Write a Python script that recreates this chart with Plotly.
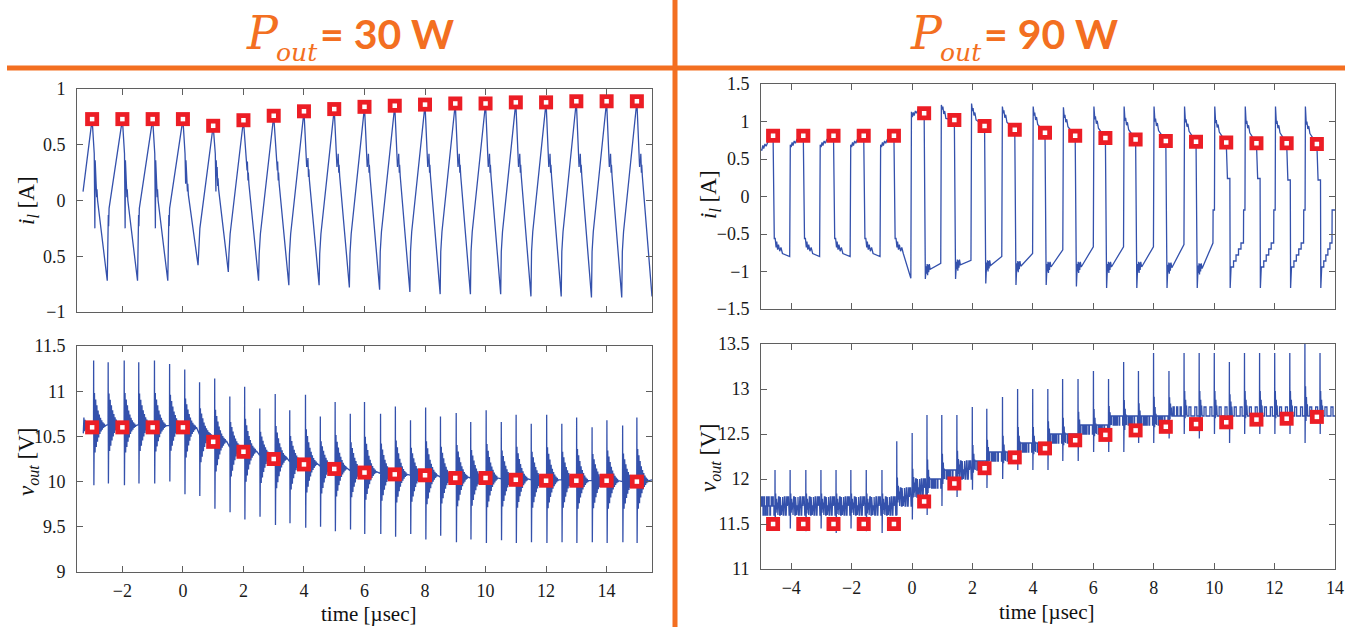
import plotly.graph_objects as go

FIG_W, FIG_H = 1345, 627
ORANGE = "#F36F21"
TRACE_BLUE = "#3451AC"
MARK_RED = "#EC1D25"
FRAME = "#5f5f5f"

# ------------------------------------------------------------------
# P_out = 30 W : inductor current i_l  [µs, A]
# ------------------------------------------------------------------
T30 = [-3, -2, -1, 0, 1, 2, 3, 4, 5, 6, 7, 8, 9, 10, 11, 12, 13, 14, 15]
IL30_MODEL = [0.73, 0.73, 0.73, 0.73, 0.67, 0.72, 0.76, 0.80, 0.82, 0.84,
              0.85, 0.86, 0.87, 0.87, 0.88, 0.88, 0.89, 0.89, 0.89]
IL30_SPIKE = [-0.25, -0.25, -0.25, 0.15, 0.08, 0.30, 0.30, 0.30, 0.30, 0.30,
              0.30, 0.30, 0.30, 0.30, 0.30, 0.30, 0.30, 0.30, 0.30]
IL30_FALL = [0.00, 0.00, 0.00, 0.05, 0.10, 0.15, 0.15, 0.18, 0.22, 0.22,
             0.22, 0.22, 0.22, 0.22, 0.22, 0.22, 0.22, 0.22, 0.22]
IL30_VALLEY = [-0.72, -0.72, -0.72, -0.58, -0.64, -0.72, -0.76, -0.76, -0.78, -0.80,
               -0.82, -0.84, -0.84, -0.84, -0.86, -0.86, -0.87, -0.87, -0.86]
IL30_RISE = [-0.07, -0.07, -0.07, -0.25, -0.30, -0.30, -0.30, -0.30, -0.30,
             -0.28, -0.28, -0.28, -0.28, -0.28, -0.28, -0.28, -0.28, -0.28]
IL30_HEAD = (-3.3, 0.08)

# P_out = 30 W : output voltage v_out  [µs, V]
V30_MODEL = [10.60, 10.60, 10.60, 10.60, 10.44, 10.33, 10.25, 10.19, 10.14, 10.10,
             10.08, 10.07, 10.04, 10.04, 10.02, 10.01, 10.01, 10.01, 10.00]
V30_T = [-2.95, -2.47, -1.94, -1.46, -0.94, -0.44, 0.06, 0.55, 1.05, 1.55,
         2.04, 2.54, 3.05, 3.53, 4.05, 4.54, 5.03, 5.53, 6.00, 6.53,
         7.02, 7.52, 8.02, 8.51, 9.03, 9.51, 10.02, 10.52, 11.01, 11.51,
         12.02, 12.52, 13.01, 13.52, 14.01, 14.53, 15.00]
V30_TOP = [11.34, 11.32, 11.34, 11.32, 11.34, 11.30, 11.24, 11.10, 11.14, 10.94,
           11.05, 10.81, 10.97, 10.79, 10.96, 10.72, 10.88, 10.75, 10.88, 10.75,
           10.83, 10.68, 10.82, 10.72, 10.76, 10.66, 10.79, 10.66, 10.74, 10.64,
           10.74, 10.64, 10.71, 10.60, 10.68, 10.62, 10.71]
V30_BOTTOM = [9.96, 9.98, 9.96, 9.98, 9.98, 10.00, 9.86, 9.84, 9.70, 9.66,
              9.58, 9.61, 9.52, 9.54, 9.49, 9.50, 9.45, 9.47, 9.42, 9.42,
              9.39, 9.42, 9.36, 9.40, 9.33, 9.36, 9.32, 9.35, 9.32, 9.33,
              9.32, 9.33, 9.32, 9.33, 9.32, 9.33, 9.32]
V30_BASE = [10.62, 10.63, 10.62, 10.63, 10.62, 10.62, 10.60, 10.52, 10.45, 10.38,
            10.34, 10.29, 10.26, 10.22, 10.20, 10.17, 10.15, 10.12, 10.11, 10.09,
            10.08, 10.07, 10.07, 10.05, 10.05, 10.04, 10.04, 10.03, 10.03, 10.02,
            10.02, 10.02, 10.01, 10.01, 10.01, 10.00, 10.01]
V30_HEAD = (-3.42, 11.00, 10.30)     # switching event just before the record opens
V30_START, V30_END = -3.3, (15.5, 10.02)
RING30 = [0.50, -0.45, 0.40, -0.36, 0.31, -0.27, 0.23, -0.20, 0.17, -0.14, 0.12,
          -0.10, 0.08, -0.07, 0.05, -0.04, 0.03, -0.02]

# ------------------------------------------------------------------
# P_out = 90 W : inductor current i_l
# ------------------------------------------------------------------
T90 = [-4.6, -3.6, -2.6, -1.6, -0.6, 0.4, 1.4, 2.4, 3.4, 4.4,
       5.4, 6.4, 7.4, 8.4, 9.4, 10.4, 11.4, 12.4, 13.4]
IL90_MODEL = [0.81, 0.81, 0.81, 0.81, 0.81, 1.11, 1.02, 0.94, 0.89, 0.85,
              0.81, 0.78, 0.76, 0.74, 0.73, 0.72, 0.71, 0.71, 0.70]
IL90_LOW_SPIKE = [-0.56, -0.56, -0.56, -0.56, -0.56, -1.10, -1.10, -1.16, -1.18, -1.18,
                  -1.20, -1.22, -1.22, -1.22, -1.22, -1.22, -1.22, -1.22, -1.22]
IL90_LOW_START = [-0.56, -0.56, -0.56, -0.56, -0.56, -0.93, -0.87, -0.88, -0.89, -0.90,
                  -0.90, -0.90, -0.90, -0.91, -0.92, -0.94, -0.94, -0.94, -0.94]
IL90_LOW_END = [-0.80, -0.80, -0.80, -0.80, -1.09, -0.89, -0.85, -0.80, -0.76, -0.71,
                -0.67, -0.67, -0.67, -0.64, -0.62, -0.62, -0.62, -0.62, -0.62]
IL90_RISE_T = [-4.05, -3.06, -2.05, -1.06, -0.04, 0.95, 1.95, 2.97, 3.99, 4.99,
               6.00, 7.00, 7.99, 9.00, 9.96, 10.97, 11.97, 12.96, 13.90]
IL90_RISE_STEP = [None, None, None, None, None, None, None, None, None, None,
                  None, None, None, None, -0.18, -0.18, -0.18, -0.18, -0.18]
IL90_FALL_STEP = [None, None, None, None, None, None, None, None, None, None,
                  None, None, None, None, None, 0.24, 0.24, 0.22, 0.22]
IL90_HIGH_PEAK = [0.69, 0.69, 0.69, 0.69, 1.13, 1.22, 1.24, 1.20, 1.20, 1.19,
                  1.20, 1.20, 1.20, 1.20, 1.20, 1.20, 1.20, 1.20]
IL90_HIGH_SETTLE = [0.66, 0.66, 0.66, 0.66, 1.06, 1.04, 1.02, 0.99, 0.96, 0.93,
                    0.91, 0.89, 0.88, 0.87, 0.86, 0.85, 0.85, 0.84]
IL90_HEAD = (-5.0, 0.62, 0.62)
IL90_STAIR = [-0.94, -0.86, -0.78, -0.70, -0.62]
IL90_END_T = 14.0
HIGH_RING_SOFT = [(0.03, 0.00), (0.06, 0.06), (0.09, 0.02), (0.13, 0.08), (0.17, 0.05), (0.22, 0.10)]
HIGH_RING_HARD = [(0.03, 0.12), (0.05, 0.16), (0.08, 0.06), (0.11, 0.10), (0.15, 0.00)]
LOW_RING_SOFT = [(0.03, -0.12), (0.05, -0.04), (0.08, -0.15), (0.11, -0.08), (0.15, -0.17), (0.19, -0.12), (0.24, -0.20)]
LOW_RING_HARD = [(0.015, -0.10), (0.03, 0.03), (0.045, -0.12), (0.06, 0.02), (0.08, -0.08), (0.10, 0.03), (0.13, -0.04)]

# P_out = 90 W : output voltage v_out
V90_MODEL = [11.50, 11.50, 11.50, 11.50, 11.50, 11.75, 11.95, 12.12, 12.24, 12.34,
             12.43, 12.49, 12.54, 12.58, 12.61, 12.63, 12.66, 12.67, 12.69]
V90_T = [-4.54, -4.04, -3.52, -3.02, -2.52, -2.03, -1.52, -1.00, -0.51, 0.00,
         0.49, 0.98, 1.48, 1.99, 2.47, 2.99, 3.49, 3.99, 4.49, 4.98,
         5.49, 6.00, 6.50, 7.00, 7.49, 7.99, 8.50, 9.00, 9.50, 10.00,
         10.50, 11.00, 11.50, 12.00, 12.50, 13.00, 13.50]
V90_TOP = [12.10, 12.10, 12.10, 12.10, 12.10, 12.10, 12.10, 12.10, 12.42, 12.51,
           12.71, 12.71, 12.71, 12.80, 12.78, 12.91, 13.00, 13.00, 13.00, 13.11,
           13.11, 13.20, 13.11, 13.30, 13.20, 13.40, 13.20, 13.40, 13.40, 13.40,
           13.30, 13.40, 13.40, 13.40, 13.40, 13.55, 13.40]
V90_BOTTOM = [11.45, 11.45, 11.42, 11.45, 11.40, 11.45, 11.42, 11.40, 11.60, 11.55,
              11.60, 11.70, 11.80, 11.88, 11.90, 12.00, 12.10, 12.10, 12.10, 12.20,
              12.20, 12.30, 12.30, 12.30, 12.40, 12.40, 12.45, 12.50, 12.45, 12.50,
              12.40, 12.50, 12.50, 12.50, 12.50, 12.40, 12.50]
V90_LO = [11.6, 11.6, 11.6, 11.6, 11.6, 11.6, 11.6, 11.6, 11.7, 11.8,
          11.9, 12.0, 12.0, 12.1, 12.2, 12.2, 12.3, 12.3, 12.4, 12.4,
          12.5, 12.5, 12.6, 12.6, 12.6, 12.6, 12.7, 12.7, 12.7, 12.7,
          12.7, 12.7, 12.7, 12.7, 12.7, 12.7, 12.7]
V90_HI = [11.8, 11.8, 11.8, 11.8, 11.8, 11.8, 11.8, 11.8, 11.9, 12.0,
          12.0, 12.1, 12.2, 12.2, 12.3, 12.3, 12.4, 12.4, 12.5, 12.5,
          12.6, 12.6, 12.7, 12.7, 12.7, 12.7, 12.8, 12.8, 12.8, 12.8,
          12.8, 12.8, 12.8, 12.8, 12.8, 12.8, 12.8]
V90_FLIPS = [20, 20, 20, 20, 20, 20, 20, 20, 20, 20,
             20, 20, 20, 20, 20, 20, 20, 20, 20, 20,
             20, 20, 20, 20, 20, 20, 10, 6, 6, 6,
             6, 6, 6, 6, 6, 6, 6]
V90_HEAD = (-5.0, 11.6, 11.8, 20)
V90_END_T = 14.0
QUANT_SEQ = [1, 2, 1, 0, 2, 1, 0, 1, 2, 0, 1, 2, 1, 0, 1, 2]
SPARSE_SEQ = [0, 1, 0, 0, 1, 0]
RING90 = [0.35, -0.30, 0.20, -0.15, 0.10]

# axis ticks
X30_TICKS = [-2, 0, 2, 4, 6, 8, 10, 12, 14]
X30_TEXT = ["\u22122", "0", "2", "4", "6", "8", "10", "12", "14"]
X90_TICKS = [-4, -2, 0, 2, 4, 6, 8, 10, 12, 14]
X90_TEXT = ["\u22124", "\u22122", "0", "2", "4", "6", "8", "10", "12", "14"]
Y_IL30_TICKS = [-1, -0.5, 0, 0.5, 1]
Y_IL30_TEXT = ["\u22121", "0.5", "0", "0.5", "1"]
Y_V30_TICKS = [9, 9.5, 10, 10.5, 11, 11.5]
Y_V30_TEXT = ["9", "9.5", "10", "10.5", "11", "11.5"]
Y_IL90_TICKS = [-1.5, -1, -0.5, 0, 0.5, 1, 1.5]
Y_IL90_TEXT = ["\u22121.5", "\u22121", "\u22120.5", "0", "0.5", "1", "1.5"]
Y_V90_TICKS = [11, 11.5, 12, 12.5, 13, 13.5]
Y_V90_TEXT = ["11", "11.5", "12", "12.5", "13", "13.5"]


# ------------------------------------------------------------------
# waveform assembly
# ------------------------------------------------------------------
def inductor_30w():
    xs, ys = [IL30_HEAD[0]], [IL30_HEAD[1]]
    n = len(T30)
    for k in range(n):
        tp, pk, f = T30[k], IL30_MODEL[k], IL30_FALL[k]
        xs += [tp, tp + 0.07, tp + 0.09, tp + 0.10, tp + 0.12, tp + 0.13, tp + 0.15, tp + 0.16, tp + 0.18]
        ys += [pk, 0.42, IL30_SPIKE[k], 0.36, f + 0.12, f + 0.20, f + 0.03, f + 0.10, f]
        xs.append(tp + 0.5)
        ys.append(IL30_VALLEY[k])
        if k < n - 1:
            r = IL30_RISE[k]
            xs += [tp + 0.52, tp + 0.535, tp + 0.545, tp + 0.56]
            ys += [r - 0.18, r - 0.06, r - 0.16, r]
    return xs, ys


def vout_30w():
    xs, ys = [], []
    events = [(V30_HEAD[0], V30_HEAD[1], V30_HEAD[2], V30_BASE[0])]
    events += list(zip(V30_T, V30_TOP, V30_BOTTOM, V30_BASE))
    dt = 0.02
    for ts, top, bot, base in events:
        xs += [ts - 0.004, ts, ts + 0.008]
        ys += [base, top, bot]
        up, dn = top - base, base - bot
        for j, a in enumerate(RING30):
            xs.append(ts + 0.008 + dt * (j + 1))
            ys.append(base + a * (up if a > 0 else dn))
        xs.append(ts + 0.008 + dt * (len(RING30) + 1))
        ys.append(base)
    xs.append(V30_END[0])
    ys.append(V30_END[1])
    keep = [i for i, t in enumerate(xs) if t >= V30_START]
    return [xs[i] for i in keep], [ys[i] for i in keep]


def high_phase(xs, ys, t0, peak, settle):
    ring = HIGH_RING_SOFT if peak - settle < 0.1 else HIGH_RING_HARD
    xs.append(t0)
    ys.append(peak)
    for dt, dv in ring:
        xs.append(t0 + dt)
        ys.append(settle + dv)


def inductor_90w():
    xs, ys = [], []
    high_phase(xs, ys, IL90_HEAD[0], IL90_HEAD[1], IL90_HEAD[2])
    for k, tf in enumerate(T90):
        xs.append(tf)
        ys.append(IL90_MODEL[k])
        step = IL90_FALL_STEP[k]
        if step is not None:
            xs += [tf + 0.04, tf + 0.12]
            ys += [step, step]
            t_low = tf + 0.13
        else:
            t_low = tf + 0.04
        ls = IL90_LOW_START[k]
        xs += [t_low, t_low + 0.03]
        ys += [IL90_LOW_SPIKE[k], ls]
        tr = IL90_RISE_T[k]
        if step is not None:
            seg = (tr - (t_low + 0.03)) / len(IL90_STAIR)
            for j, lv in enumerate(IL90_STAIR):
                ta = t_low + 0.03 + j * seg
                xs += [ta, ta + seg]
                ys += [lv, lv]
        else:
            ring = LOW_RING_SOFT if ls > -0.7 else LOW_RING_HARD
            for dt, dv in ring:
                xs.append(t_low + 0.03 + dt)
                ys.append(ls + dv)
        xs.append(tr)
        ys.append(IL90_LOW_END[k])
        rstep = IL90_RISE_STEP[k]
        if rstep is not None:
            xs += [tr + 0.005, tr + 0.05]
            ys += [rstep, rstep]
            t_high = tr + 0.06
        else:
            t_high = tr + 0.02
        if k < len(IL90_HIGH_PEAK):
            high_phase(xs, ys, t_high, IL90_HIGH_PEAK[k], IL90_HIGH_SETTLE[k])
        else:
            xs.append(IL90_END_T)
            ys.append(rstep)
    return xs, ys


def quant_band(xs, ys, t0, t1, lo, hi, flips, seq):
    n_lv = int(round((hi - lo) / 0.1)) + 1
    levels = [round(lo + 0.1 * i, 2) for i in range(n_lv)]
    for j in range(flips):
        tj = t0 + (t1 - t0) * j / flips
        lv = levels[min(seq[j % len(seq)], n_lv - 1)]
        xs += [tj, tj]
        ys += [ys[-1], lv]
    xs.append(t1)
    ys.append(ys[-1])


def vout_90w():
    t0, lo0, hi0, fl0 = V90_HEAD
    xs, ys = [t0], [round((lo0 + hi0) / 2, 2)]
    quant_band(xs, ys, t0, V90_T[0] - 0.01, lo0, hi0, fl0, QUANT_SEQ)
    n = len(V90_T)
    dt = 0.015
    for i, ts in enumerate(V90_T):
        mid = (V90_LO[i] + V90_HI[i]) / 2
        xs += [ts, ts + 0.004, ts + 0.010]
        ys += [ys[-1], V90_TOP[i], V90_BOTTOM[i]]
        up, dn = V90_TOP[i] - mid, mid - V90_BOTTOM[i]
        for j, a in enumerate(RING90):
            xs.append(ts + 0.010 + dt * (j + 1))
            ys.append(mid + a * (up if a > 0 else dn))
        t_start = ts + 0.010 + dt * (len(RING90) + 1)
        t_end = V90_T[i + 1] - 0.01 if i + 1 < n else V90_END_T
        xs.append(t_start)
        ys.append(V90_LO[i])
        seq = QUANT_SEQ if V90_FLIPS[i] > 10 else SPARSE_SEQ
        quant_band(xs, ys, t_start, t_end, V90_LO[i], V90_HI[i], V90_FLIPS[i], seq)
    return xs, ys


# ------------------------------------------------------------------
# figure
# ------------------------------------------------------------------
def px(x):
    return x / FIG_W


def py(y):
    return 1 - y / FIG_H


fig = go.Figure()

panels = [
    ("x", "y", inductor_30w(), T30, IL30_MODEL),
    ("x2", "y2", vout_30w(), T30, V30_MODEL),
    ("x3", "y3", inductor_90w(), T90, IL90_MODEL),
    ("x4", "y4", vout_90w(), T90, V90_MODEL),
]
for xa, ya, (wx, wy), mt, mv in panels:
    fig.add_trace(go.Scatter(x=wx, y=wy, mode="lines", xaxis=xa, yaxis=ya,
                             line=dict(color=TRACE_BLUE, width=1.3), hoverinfo="skip"))
    fig.add_trace(go.Scatter(x=mt, y=mv, mode="markers", xaxis=xa, yaxis=ya,
                             marker=dict(symbol="square", size=14, color=MARK_RED,
                                         line=dict(width=0))))
    fig.add_trace(go.Scatter(x=mt, y=mv, mode="markers", xaxis=xa, yaxis=ya,
                             marker=dict(symbol="square", size=4.5, color="white",
                                         line=dict(width=0))))

tick_font = dict(family="Liberation Serif", size=18, color="#1a1a1a")
axis_common = dict(showline=True, linecolor=FRAME, linewidth=1, mirror="allticks",
                   ticks="inside", ticklen=6, tickcolor=FRAME, tickwidth=1,
                   showgrid=False, zeroline=False, tickfont=tick_font, fixedrange=True,
                   automargin=False)

L_X = [px(77), px(652)]
R_X = [px(761), px(1335)]

fig.update_layout(
    template="none",
    width=FIG_W, height=FIG_H,
    margin=dict(l=0, r=0, t=0, b=0, pad=0, autoexpand=False),
    paper_bgcolor="white", plot_bgcolor="white", showlegend=False,
    xaxis=dict(axis_common, domain=L_X, range=[-3.5, 15.5], anchor="y",
               tickvals=X30_TICKS, showticklabels=False),
    yaxis=dict(axis_common, domain=[py(312), py(89)], range=[-1, 1], anchor="x",
               tickvals=Y_IL30_TICKS, ticktext=Y_IL30_TEXT, ticklabelstandoff=7),
    xaxis2=dict(axis_common, domain=L_X, range=[-3.5, 15.5], anchor="y2",
                tickvals=X30_TICKS, ticktext=X30_TEXT, ticklabelstandoff=2),
    yaxis2=dict(axis_common, domain=[py(572), py(346)], range=[9, 11.5], anchor="x2",
                tickvals=Y_V30_TICKS, ticktext=Y_V30_TEXT, ticklabelstandoff=7),
    xaxis3=dict(axis_common, domain=R_X, range=[-5, 14], anchor="y3",
                tickvals=X90_TICKS, showticklabels=False),
    yaxis3=dict(axis_common, domain=[py(309), py(84)], range=[-1.5, 1.5], anchor="x3",
                tickvals=Y_IL90_TICKS, ticktext=Y_IL90_TEXT, ticklabelstandoff=7),
    xaxis4=dict(axis_common, domain=R_X, range=[-5, 14], anchor="y4",
                tickvals=X90_TICKS, ticktext=X90_TEXT, ticklabelstandoff=2),
    yaxis4=dict(axis_common, domain=[py(569), py(344)], range=[11, 13.5], anchor="x4",
                tickvals=Y_V90_TICKS, ticktext=Y_V90_TEXT, ticklabelstandoff=7),
)

# orange section dividers
fig.add_shape(type="line", xref="paper", yref="paper", x0=px(7), x1=1, y0=py(68), y1=py(68),
              line=dict(color=ORANGE, width=5))
fig.add_shape(type="line", xref="paper", yref="paper", x0=px(675), x1=px(675), y0=0, y1=1,
              line=dict(color=ORANGE, width=5))

annotations = []


def label(text, x, y, family, size, color="#111111", angle=0, xanchor="center"):
    annotations.append(dict(text=text, x=px(x), y=py(y), xref="paper", yref="paper",
                            showarrow=False, textangle=angle, xanchor=xanchor, yanchor="middle",
                            font=dict(family=family, size=size, color=color)))


# section headings
for dx, watts in ((0, "30"), (664, "90")):
    label("<i>P</i>", 262 + dx, 33, "DejaVu Serif", 46, ORANGE)
    label("<i>out</i>", 297 + dx, 53, "DejaVu Serif", 25, ORANGE)
    label("<b>= %s W</b>" % watts, 318 + dx, 34, "Lato", 41, ORANGE, xanchor="left")

# axis titles
serif = "Liberation Serif"
label("time [\u00b5sec]", 369, 614, serif, 21)
label("time [\u00b5sec]", 1046, 612, serif, 21)
label("<i>i</i><sub><i>l</i></sub> [A]", 28, 200, serif, 23, angle=-90)
label("<i>v</i><sub><i>out</i></sub> [V]", 28, 462, serif, 23, angle=-90)
label("<i>i</i><sub><i>l</i></sub> [A]", 710, 195, serif, 23, angle=-90)
label("<i>v</i><sub><i>out</i></sub> [V]", 710, 458, serif, 23, angle=-90)

fig.update_layout(annotations=annotations)
fig.write_html("out.html")
